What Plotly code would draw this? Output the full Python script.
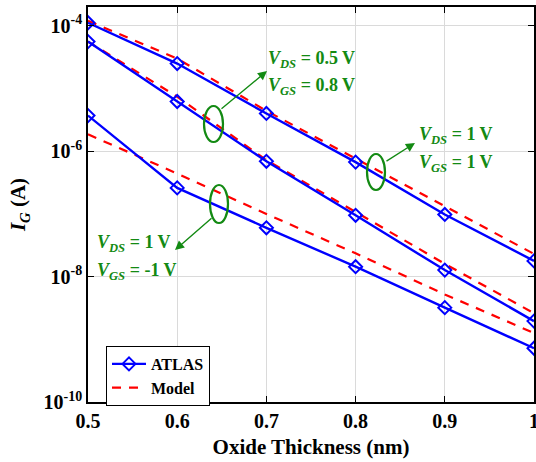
import plotly.graph_objects as go

thickness = [0.5, 0.6, 0.7, 0.8, 0.9, 1.0]

atlas_vds1_vgs1 = [1.12e-4, 2.5e-5, 4.0e-6, 6.7e-7, 9.8e-8, 1.78e-8]
atlas_vds05_vgs08 = [5.6e-5, 6.2e-6, 6.9e-7, 9.5e-8, 1.27e-8, 1.95e-9]
atlas_vds1_vgsm1 = [3.7e-6, 2.6e-7, 6.0e-8, 1.44e-8, 3.2e-9, 7.2e-10]

model_vds1_vgs1 = [1.2e-4, 3.0e-5, 4.4e-6, 7.6e-7, 1.32e-7, 2.3e-8]
model_vds05_vgs08 = [5.6e-5, 7.4e-6, 7.2e-7, 1.07e-7, 1.6e-8, 2.6e-9]
model_vds1_vgsm1 = [1.86e-6, 4.4e-7, 1.0e-7, 2.35e-8, 5.2e-9, 1.26e-9]

y_tickvals = [1e-10, 1e-8, 1e-6, 1e-4]
y_ticktext = ["10<sup>-10</sup>", "10<sup>-8</sup>", "10<sup>-6</sup>", "10<sup>-4</sup>"]
x_tickvals = [0.5, 0.6, 0.7, 0.8, 0.9, 1.0]
x_ticktext = ["0.5", "0.6", "0.7", "0.8", "0.9", "1"]

FONT = "Liberation Serif, Times New Roman, serif"
BLUE = "#0000ff"
RED = "#ff0000"
GREEN = "#138a13"

fig = go.Figure()

atlas_sets = [atlas_vds1_vgs1, atlas_vds05_vgs08, atlas_vds1_vgsm1]
model_sets = [model_vds1_vgs1, model_vds05_vgs08, model_vds1_vgsm1]

for i, m in enumerate(model_sets):
    fig.add_trace(go.Scatter(
        x=thickness, y=m, mode="lines", name="Model",
        line=dict(color=RED, width=2.2, dash="9px,8px"),
        showlegend=False, legendrank=2))
for i, a in enumerate(atlas_sets):
    fig.add_trace(go.Scatter(
        x=thickness, y=a, mode="lines+markers", name="ATLAS",
        line=dict(color=BLUE, width=2.4),
        marker=dict(symbol="diamond-open", size=10, color=BLUE, line=dict(width=2, color=BLUE)),
        showlegend=(i == 0), legendrank=1))
fig.add_trace(go.Scatter(
    x=[None], y=[None], mode="lines", name="Model",
    line=dict(color=RED, width=2.2, dash="9px,8px"), showlegend=True, legendrank=2))

L, R, T, B = 88, 534, 7, 402
def px(x):
    return (x - L) / (R - L)
def py(y):
    return (B - y) / (B - T)

ellipses = [(204, 223, 106, 142), (210, 228, 185, 223), (367, 385, 154, 190)]
for (x0, x1, y0, y1) in ellipses:
    fig.add_shape(type="circle", xref="paper", yref="paper",
                  x0=px(x0), x1=px(x1), y0=py(y1), y1=py(y0),
                  line=dict(color=GREEN, width=2.2))

arrows = [((267, 71), (220, 110)), ((175, 250), (213, 217)), ((415, 143), (385, 162))]
for (hx, hy), (tx, ty) in arrows:
    fig.add_annotation(xref="paper", yref="paper", x=px(hx), y=py(hy),
                       ax=tx - hx, ay=ty - hy, axref="pixel", ayref="pixel",
                       text="", showarrow=True, arrowhead=2, arrowsize=1.3,
                       arrowwidth=1.4, arrowcolor=GREEN)

labels = [
    (266, 59, "<i>V</i><sub><i>DS</i></sub> = 0.5 V"),
    (266, 87, "<i>V</i><sub><i>GS</i></sub> = 0.8 V"),
    (95, 243, "<i>V</i><sub><i>DS</i></sub> = 1 V"),
    (95, 271, "<i>V</i><sub><i>GS</i></sub> = -1 V"),
    (417, 135, "<i>V</i><sub><i>DS</i></sub> = 1 V"),
    (417, 163, "<i>V</i><sub><i>GS</i></sub> = 1 V"),
]
for (x, y, t) in labels:
    fig.add_annotation(xref="paper", yref="paper", x=px(x), y=py(y),
                       xanchor="left", yanchor="middle", text=t, showarrow=False,
                       font=dict(family=FONT, size=18, color=GREEN, weight="bold"))

fig.update_layout(
    width=536, height=462,
    margin=dict(l=L, r=536 - R, t=T, b=462 - B, autoexpand=False),
    paper_bgcolor="white", plot_bgcolor="white",
    font=dict(family=FONT, color="black", weight="bold"),
    legend=dict(x=px(106), y=py(346), xanchor="left", yanchor="top",
                bgcolor="white", bordercolor="black", borderwidth=1,
                font=dict(family=FONT, size=16, color="black", weight="bold"),
                tracegroupgap=0, itemwidth=34),
)
fig.update_xaxes(
    range=[0.5, 1.0], tickvals=x_tickvals, ticktext=x_ticktext,
    automargin=False, ticklabeloverflow="allow",
    showgrid=True, gridcolor="#dadada", gridwidth=1,
    showline=True, linecolor="black", linewidth=1.5, mirror="ticks",
    ticks="inside", ticklen=6, tickcolor="black",
    tickfont=dict(family=FONT, size=20, color="black", weight="bold"),
    title=dict(text="Oxide Thickness (nm)", standoff=9,
               font=dict(family=FONT, size=21, color="black", weight="bold")),
    zeroline=False,
)
fig.update_yaxes(
    type="log", range=[-10, -3.7], tickvals=y_tickvals, ticktext=y_ticktext,
    automargin=False, ticklabeloverflow="allow",
    showgrid=True, gridcolor="#dadada", gridwidth=1,
    showline=True, linecolor="black", linewidth=1.5, mirror="ticks",
    ticks="inside", ticklen=6, tickcolor="black",
    tickfont=dict(family=FONT, size=20, color="black", weight="bold"),
    title=dict(text="<i>I</i><sub><i>G</i></sub> (A)", standoff=12,
               font=dict(family=FONT, size=21, color="black", weight="bold")),
    zeroline=False,
)

fig.write_html("out.html", config={"displayModeBar": False},
               post_script="document.body.style.margin='0';document.body.style.overflow='hidden';")
